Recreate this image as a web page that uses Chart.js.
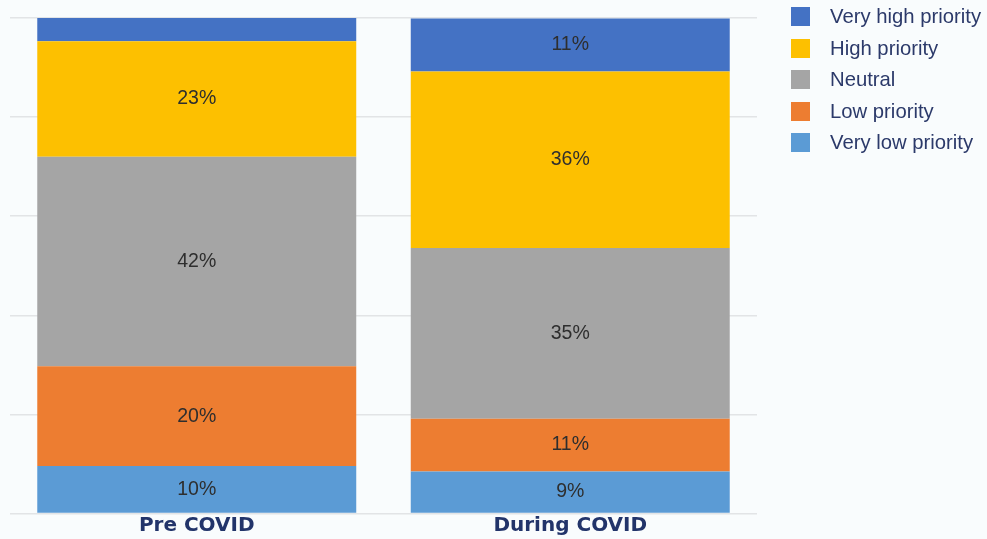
<!DOCTYPE html>
<html>
<head>
<meta charset="utf-8">
<script src="https://cdn.jsdelivr.net/npm/chart.js@4/dist/chart.umd.min.js"></script>
<style>
  html, body { margin: 0; padding: 0; background: #f9fcfd; }
  #wrap { position: relative; width: 987px; height: 539px; }
  #chartBox { position: absolute; left: 0; top: 0; width: 987px; height: 539px; }
  #legend { position: absolute; left: 791px; top: 1px; font-family: "Liberation Sans", Arial, sans-serif; }
  .leg-item { display: flex; align-items: center; height: 31.5px; }
  .leg-box { width: 19px; height: 19px; margin-right: 20px; }
  .leg-text { font-size: 20.3px; color: #2c3a6a; white-space: nowrap; }
</style>
</head>
<body>
<div id="wrap">
  <div id="chartBox"><canvas id="priorityChart"></canvas></div>
  <div id="legend"></div>
</div>
<script>
// categories and series (percent of respondents)
const categories = ['Pre COVID', 'During COVID'];
const seriesNames = ['Very high priority', 'High priority', 'Neutral', 'Low priority', 'Very low priority'];
const veryHigh = [4.7, 10.7];
const high = [23.3, 35.6];
const neutral = [42.3, 34.5];
const low = [20.1, 10.6];
const veryLow = [9.6, 8.5];
const seriesColors = ['#4472c4', '#fdc000', '#a5a5a5', '#ed7d31', '#5b9bd5'];
const yTicks = [0, 20, 40, 60, 80, 100];

// stacked from bottom up
const stackOrder = [
  { name: seriesNames[4], data: veryLow, color: seriesColors[4] },
  { name: seriesNames[3], data: low, color: seriesColors[3] },
  { name: seriesNames[2], data: neutral, color: seriesColors[2] },
  { name: seriesNames[1], data: high, color: seriesColors[1] },
  { name: seriesNames[0], data: veryHigh, color: seriesColors[0] }
];

// value labels in the middle of each segment
const segmentLabels = {
  id: 'segmentLabels',
  afterDatasetsDraw(chart) {
    const ctx = chart.ctx;
    ctx.save();
    ctx.font = '19.5px "Liberation Sans", Arial, sans-serif';
    ctx.fillStyle = '#2e2e2e';
    ctx.textAlign = 'center';
    ctx.textBaseline = 'middle';
    chart.data.datasets.forEach((ds, i) => {
      const meta = chart.getDatasetMeta(i);
      meta.data.forEach((bar, j) => {
        const v = ds.data[j];
        if (v < 5) return;
        const mid = (bar.y + bar.base) / 2;
        ctx.fillText(Math.round(v) + '%', bar.x, mid);
      });
    });
    ctx.restore();
  }
};

new Chart(document.getElementById('priorityChart'), {
  type: 'bar',
  data: {
    labels: categories,
    datasets: stackOrder.map(s => ({
      label: s.name,
      data: s.data,
      backgroundColor: s.color,
      borderWidth: 0,
      categoryPercentage: 1,
      barPercentage: 0.854
    }))
  },
  options: {
    responsive: true,
    maintainAspectRatio: false,
    animation: false,
    layout: { padding: { left: 10, right: 230, top: 18, bottom: 0 } },
    plugins: { legend: { display: false }, tooltip: { enabled: false } },
    scales: {
      x: {
        stacked: true,
        grid: { display: false, drawTicks: false },
        border: { display: false },
        ticks: {
          padding: 1.75,
          color: '#22346a',
          font: { family: '"DejaVu Sans", sans-serif', size: 20, weight: 'bold', lineHeight: 1.1 }
        }
      },
      y: {
        stacked: true,
        min: yTicks[0],
        max: yTicks[yTicks.length - 1],
        afterBuildTicks: (axis) => { axis.ticks = yTicks.map(v => ({ value: v })); },
        ticks: { display: false },
        grid: { color: '#e2e4e6', lineWidth: 1.5, drawTicks: false },
        border: { display: false }
      }
    }
  },
  plugins: [segmentLabels]
});

// legend, top to bottom like the reference
const legendEl = document.getElementById('legend');
seriesNames.forEach((name, i) => {
  const item = document.createElement('div');
  item.className = 'leg-item';
  item.innerHTML = '<div class="leg-box" style="background:' + seriesColors[i] + '"></div><span class="leg-text">' + name + '</span>';
  legendEl.appendChild(item);
});
</script>
</body>
</html>
